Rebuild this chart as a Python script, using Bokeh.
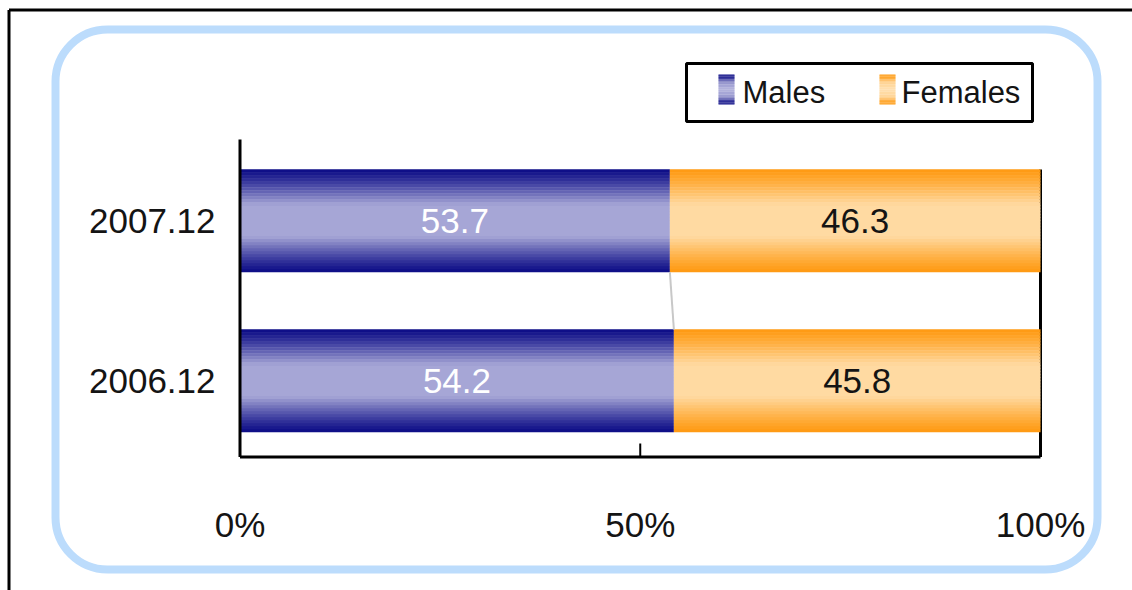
from bokeh.plotting import figure
from bokeh.models import ColumnDataSource, BoxAnnotation
from bokeh.core.properties import value
from bokeh.embed import file_html
from bokeh.resources import INLINE

# ---------------- data ----------------
categories = ["2007.12", "2006.12"]
males = [53.7, 54.2]
females = [46.3, 45.8]
series_names = ["Males", "Females"]
tick_values = [0, 50, 100]
tick_labels = ["0%", "50%", "100%"]

# ---------------- style / layout (page pixels) ----------------
W, H = 1132, 590
PX0, PX100 = 239.5, 1040.0          # page x of 0 % and 100 %
PY_FIRST, PY_SECOND = 220.3, 380.3  # page y of category centres
BAR_PX = 102.7
FONT = "Liberation Sans"
FSIZE = "35px"
LEG_FSIZE = "31px"
TXT = "#141414"
MALE_EDGE, MALE_MID = (12, 12, 134), (166, 166, 214)
FEM_EDGE, FEM_MID = (255, 154, 18), (255, 218, 162)
NSTRIPES = 34

sx = (PX100 - PX0) / 100.0
x_start = -PX0 / sx
x_end = x_start + W / sx
sy = PY_SECOND - PY_FIRST
n = len(categories)
ypos = [n - 1 - i for i in range(n)]
y_end = (n - 1) + PY_FIRST / sy
y_start = y_end - H / sy


def X(px):
    return x_start + px / sx


def Y(py):
    return y_end - py / sy


bar_h = BAR_PX / sy


def shade(edge, mid, t):
    f = min(1.0, max(0.0, (1 - t) / 0.7)) ** 1.2
    return "#%02x%02x%02x" % tuple(int(round(e + (m - e) * f)) for e, m in zip(edge, mid))


def stripes(yc_list, lefts, rights, h, edge, mid):
    d = dict(y=[], left=[], right=[], color=[], height=[])
    for yc, l, r in zip(yc_list, lefts, rights):
        for k in range(NSTRIPES):
            off = -h / 2 + (k + 0.5) * h / NSTRIPES
            t = abs(off) / (h / 2)
            d["y"].append(yc + off)
            d["left"].append(l)
            d["right"].append(r)
            d["color"].append(shade(edge, mid, t))
            d["height"].append(h / NSTRIPES * 1.12)
    return ColumnDataSource(d)


p = figure(width=W, height=H, output_backend="svg", toolbar_location=None,
           x_range=(x_start, x_end), y_range=(y_start, y_end),
           x_axis_location=None, y_axis_location=None, min_border=0,
           tools="")
p.grid.visible = False
p.outline_line_color = None
p.background_fill_color = "white"
p.border_fill_color = "white"

# outer rounded light-blue frame
p.add_layout(BoxAnnotation(left=X(55), right=X(1097), top=Y(29), bottom=Y(569),
                           fill_color=None, fill_alpha=0, line_color="#bcdcfc",
                           line_alpha=1.0, line_width=8,
                           border_radius=52, level="underlay"))
# black page frame (top / left edges)
p.segment(x0=[X(8.5), X(8.5)], y0=[Y(9.5), Y(9.5)], x1=[X(8.5), x_end], y1=[y_start, Y(9.5)],
          line_color="black", line_width=3)

axis_bottom = Y(456.5)
axis_top = Y(139)

# right border line at 100 %
p.segment(x0=[tick_values[-1]], y0=[axis_bottom], x1=[tick_values[-1]], y1=[ypos[0] + bar_h / 2],
          line_color="black", line_width=3)

# bars
totals = [m + f for m, f in zip(males, females)]
src_m = stripes(ypos, [0] * n, males, bar_h, MALE_EDGE, MALE_MID)
src_f = stripes(ypos, males, totals, bar_h, FEM_EDGE, FEM_MID)
p.hbar(y="y", left="left", right="right", height="height", fill_color="color",
       line_color=None, source=src_m)
p.hbar(y="y", left="left", right="right", height="height", fill_color="color",
       line_color=None, source=src_f)

# series connector line
p.segment(x0=males[:-1], y0=[y - bar_h / 2 for y in ypos[:-1]],
          x1=males[1:], y1=[y + bar_h / 2 for y in ypos[1:]],
          line_color="#c8c8c8", line_width=2)

# axes
p.segment(x0=[0], y0=[axis_top], x1=[0], y1=[axis_bottom], line_color="black", line_width=3)
p.segment(x0=[tick_values[0]], y0=[axis_bottom], x1=[tick_values[-1]], y1=[axis_bottom],
          line_color="black", line_width=3)
p.segment(x0=tick_values, y0=[axis_bottom] * len(tick_values), x1=tick_values,
          y1=[Y(443)] * len(tick_values), line_color="black", line_width=2)

p.text(x=tick_values, y=[Y(524)] * len(tick_values), text=tick_labels,
       text_font=value(FONT), text_font_size=FSIZE, text_color=TXT,
       text_align="center", text_baseline="middle")
p.text(x=[X(215)] * n, y=ypos, text=categories,
       text_font=value(FONT), text_font_size=FSIZE, text_color=TXT,
       text_align="right", text_baseline="middle")

# value labels
p.text(x=[m / 2 for m in males], y=ypos, text=["%.1f" % m for m in males],
       text_font=value(FONT), text_font_size=FSIZE, text_color="white",
       text_align="center", text_baseline="middle")
p.text(x=[m + f / 2 for m, f in zip(males, females)], y=ypos, text=["%.1f" % f for f in females],
       text_font=value(FONT), text_font_size=FSIZE, text_color=TXT,
       text_align="center", text_baseline="middle")

# legend (drawn manually to keep gradient swatches)
p.quad(left=[X(686)], right=[X(1032)], top=[Y(63)], bottom=[Y(121)],
       fill_color="white", line_color="black", line_width=3)
sw_left = [X(718), X(879)]
sw_right = [X(734), X(895)]
sw_top, sw_bot = Y(74), Y(104)
for i, (edge, mid) in enumerate([(MALE_EDGE, MALE_MID), (FEM_EDGE, FEM_MID)]):
    src = stripes([(sw_top + sw_bot) / 2], [sw_left[i]], [sw_right[i]], sw_top - sw_bot, edge, mid)
    p.hbar(y="y", left="left", right="right", height="height", fill_color="color",
           line_color=None, source=src)
p.text(x=[X(742), X(901)], y=[Y(92)] * 2, text=series_names,
       text_font=value(FONT), text_font_size=LEG_FSIZE, text_color=TXT,
       text_align="left", text_baseline="middle")

open("out.html", "w").write(file_html(p, INLINE))
